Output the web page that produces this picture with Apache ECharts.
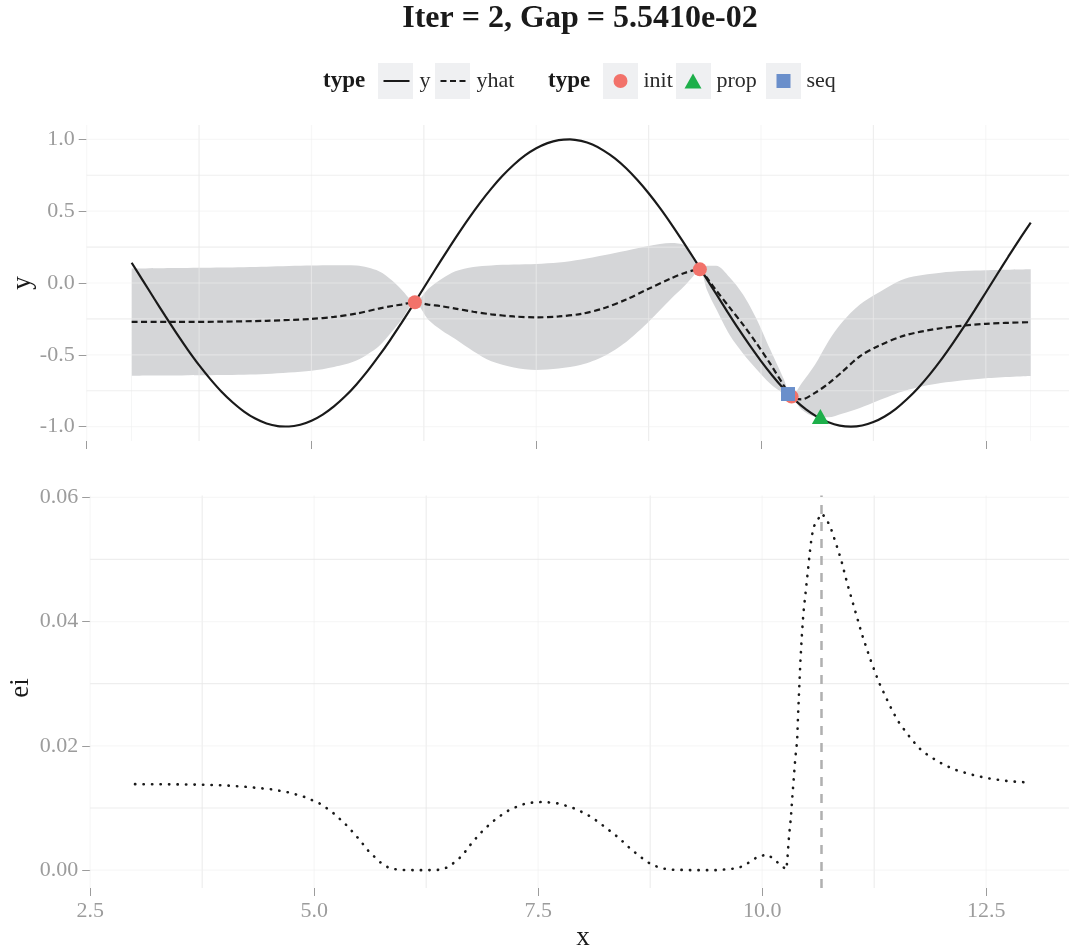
<!DOCTYPE html>
<html>
<head>
<meta charset="utf-8">
<script src="https://cdn.jsdelivr.net/npm/echarts@6/dist/echarts.min.js"></script>
<style>
  html, body { margin: 0; padding: 0; background: #ffffff; }
  #chart { width: 1069px; height: 949px; }
</style>
</head>
<body>
<div id="chart"></div>
<script>
// ---- chart text ----
const titleText = 'Iter = 2, Gap = 5.5410e-02';
const legendTitle = 'type';
const axisNames = { x: 'x', y: 'y', ei: 'ei' };

// ---- axis ticks ----
const xTicks = [2.5, 5, 7.5, 10, 12.5];
const xMinorTicks = [3.75, 6.25, 8.75, 11.25];
const yTicks = [-1, -0.5, 0, 0.5, 1];
const yMinorTicks = [-0.75, -0.25, 0.25, 0.75];
const eiTicks = [0, 0.02, 0.04, 0.06];
const eiMinorTicks = [0.01, 0.03, 0.05];

// ---- true objective y ----
const truthX = [3.000, 3.125, 3.250, 3.375, 3.500, 3.625, 3.750, 3.875, 4.000, 4.125,
  4.250, 4.375, 4.500, 4.625, 4.750, 4.875, 5.000, 5.125, 5.250, 5.375, 5.500, 5.625,
  5.750, 5.875, 6.000, 6.125, 6.250, 6.375, 6.500, 6.625, 6.750, 6.875, 7.000, 7.125,
  7.250, 7.375, 7.500, 7.625, 7.750, 7.875, 8.000, 8.125, 8.250, 8.375, 8.500, 8.625,
  8.750, 8.875, 9.000, 9.125, 9.250, 9.375, 9.500, 9.625, 9.750, 9.875, 10.000, 10.125,
  10.250, 10.375, 10.500, 10.625, 10.750, 10.875, 11.000, 11.125, 11.250, 11.375, 11.500,
  11.625, 11.750, 11.875, 12.000, 12.125, 12.250, 12.375, 12.500, 12.625, 12.750, 12.875,
  13.000];
const truthY = [0.141, 0.017, -0.108, -0.231, -0.351, -0.465, -0.572, -0.669, -0.757,
  -0.832, -0.895, -0.944, -0.978, -0.996, -0.999, -0.987, -0.959, -0.916, -0.859, -0.789,
  -0.706, -0.612, -0.508, -0.397, -0.279, -0.158, -0.033, 0.092, 0.215, 0.335, 0.450,
  0.558, 0.657, 0.746, 0.823, 0.888, 0.938, 0.974, 0.995, 1.000, 0.989, 0.964, 0.922,
  0.868, 0.799, 0.717, 0.625, 0.523, 0.412, 0.295, 0.174, 0.050, -0.075, -0.199, -0.320,
  -0.435, -0.544, -0.644, -0.735, -0.814, -0.880, -0.932, -0.970, -0.993, -1.000, -0.992,
  -0.968, -0.929, -0.876, -0.808, -0.729, -0.638, -0.537, -0.427, -0.311, -0.190, -0.066,
  0.059, 0.183, 0.304, 0.420];

// ---- surrogate mean (yhat) and its band ----
const gpX = [3.00, 3.50, 4.00, 4.50, 5.00, 5.25, 5.50, 5.75, 5.90, 6.00, 6.15, 6.30,
  6.45, 6.60, 6.80, 7.00, 7.25, 7.50, 7.75, 8.00, 8.25, 8.50, 8.75, 9.00, 9.15, 9.25,
  9.32, 9.40, 9.50, 9.65, 9.80, 9.95, 10.10, 10.25, 10.34, 10.45, 10.60, 10.75, 10.90,
  11.10, 11.30, 11.60, 12.00, 12.50, 13.00];
const gpMean = [-0.271, -0.271, -0.269, -0.263, -0.250, -0.236, -0.213, -0.178, -0.160,
  -0.150, -0.134, -0.150, -0.162, -0.178, -0.200, -0.218, -0.233, -0.239, -0.233,
  -0.215, -0.176, -0.115, -0.040, 0.033, 0.070, 0.088, 0.095, 0.035, -0.050, -0.170,
  -0.290, -0.420, -0.560, -0.710, -0.791, -0.810, -0.765, -0.700, -0.620, -0.510,
  -0.440, -0.365, -0.315, -0.284, -0.273];
const gpLower = [-0.645, -0.644, -0.641, -0.633, -0.611, -0.585, -0.540, -0.440, -0.335,
  -0.258, -0.134, -0.255, -0.330, -0.390, -0.475, -0.545, -0.588, -0.605, -0.595,
  -0.570, -0.510, -0.410, -0.270, -0.110, -0.020, 0.050, 0.095, -0.050, -0.180,
  -0.360, -0.490, -0.600, -0.700, -0.770, -0.791, -0.880, -0.930, -0.935, -0.910,
  -0.870, -0.820, -0.750, -0.697, -0.663, -0.647];
const gpUpper = [0.100, 0.104, 0.108, 0.114, 0.121, 0.123, 0.121, 0.082, 0.015, -0.045,
  -0.134, -0.040, 0.030, 0.082, 0.112, 0.122, 0.128, 0.132, 0.142, 0.163, 0.193, 0.225,
  0.258, 0.278, 0.262, 0.185, 0.095, 0.120, 0.120, 0.040, -0.080, -0.250, -0.460,
  -0.665, -0.791, -0.700, -0.570, -0.405, -0.275, -0.150, -0.070, 0.030, 0.072, 0.088,
  0.095];

// ---- evaluated points ----
const initPoints = [[6.15, -0.134], [9.32, 0.095], [10.34, -0.791]];
const propPoints = [[10.66, -0.930]];
const seqPoints = [[10.30, -0.773]];

// ---- expected improvement ----
const eiX = [3.00, 3.50, 3.77, 4.00, 4.25, 4.53, 4.72, 4.90, 5.08, 5.23, 5.37, 5.50,
  5.61, 5.75, 5.84, 5.95, 6.10, 6.25, 6.40, 6.50, 6.58, 6.65, 6.76, 6.89, 7.04, 7.19,
  7.37, 7.56, 7.74, 7.93, 8.10, 8.25, 8.40, 8.54, 8.69, 8.77, 8.86, 8.95, 9.20, 9.50,
  9.72, 9.80, 9.88, 9.96, 10.06, 10.13, 10.20, 10.27, 10.28, 10.30, 10.32, 10.34,
  10.37, 10.39, 10.40, 10.425, 10.44, 10.46, 10.50, 10.54, 10.57, 10.61, 10.667,
  10.715, 10.76, 10.82, 10.88, 10.95, 11.03, 11.11, 11.20, 11.30, 11.42, 11.51, 11.62,
  11.74, 11.81, 11.97, 12.14, 12.33, 12.51, 12.70, 12.85, 13.00];
const eiY = [0.01384, 0.01380, 0.01375, 0.01365, 0.01340, 0.01300, 0.01250, 0.01175,
  0.01060, 0.00900, 0.00710, 0.00500, 0.00300, 0.00110, 0.00030, 0.00005, 0.00000,
  0.00000, 0.00005, 0.00050, 0.00145, 0.00230, 0.00440, 0.00650, 0.00840, 0.00980,
  0.01080, 0.01100, 0.01070, 0.00980, 0.00850, 0.00690, 0.00520, 0.00330, 0.00160,
  0.00085, 0.00040, 0.00010, 0.00000, 0.00000, 0.00030, 0.00075, 0.00150, 0.00225,
  0.00250, 0.00180, 0.00085, 0.00010, 0.00160, 0.00560, 0.00840, 0.01250, 0.01810,
  0.02080, 0.02490, 0.03320, 0.03720, 0.04140, 0.04680, 0.05230, 0.05510, 0.05620,
  0.05740, 0.05650, 0.05530, 0.05270, 0.05000, 0.04610, 0.04210, 0.03810, 0.03420,
  0.03030, 0.02660, 0.02410, 0.02190, 0.01980, 0.01890, 0.01740, 0.01620, 0.01540,
  0.01480, 0.01440, 0.01420, 0.01410];

// ---- styling ----
const SERIF = '"Liberation Serif", "DejaVu Serif", serif';
const INK = '#1a1a1a';
const TICK_GREY = '#9c9c9c';
const RIBBON = '#d5d6d8';
const KEY_BG = '#eff0f2';
const C_INIT = '#f2726a', C_PROP = '#1daf4a', C_SEQ = '#6a8fcb';
const MINOR_GRID = 'rgba(231,231,231,0.71)';
const MAJOR_GRID = 'rgba(240,240,240,0.54)';

const zip = (xs, ys) => xs.map((x, i) => [x, ys[i]]);

// grid lines drawn through the axes' own scales
function gridLines(axisIdx, values, dir, color) {
  return {
    type: 'custom', xAxisIndex: axisIdx, yAxisIndex: axisIdx, silent: true, z: 3,
    clip: false,
    data: values.map(v => dir === 'x' ? [v, axisIdx === 0 ? 0 : 0.01] : [xTicks[0] + 1, v]),
    encode: { x: 0, y: 1 },
    renderItem(params, api) {
      const cs = params.coordSys;
      const p = api.coord([api.value(0), api.value(1)]);
      const shape = dir === 'x'
        ? { x1: p[0], y1: cs.y, x2: p[0], y2: cs.y + cs.height }
        : { x1: cs.x, y1: p[1], x2: cs.x + cs.width, y2: p[1] };
      return { type: 'line', shape, style: { stroke: color, lineWidth: 1.2 } };
    }
  };
}

const tickLabel = { color: TICK_GREY, fontFamily: SERIF, fontSize: 22, margin: 12 };
const tickLine = { length: 8, lineStyle: { color: TICK_GREY, width: 1 } };
const hiddenLine = { show: false, onZero: false };
const axisTitle = { color: INK, fontFamily: SERIF, fontSize: 27 };

// rotated title beside a vertical axis
function sideTitle(text, x, y) {
  return { type: 'text', x, y, rotation: Math.PI / 2,
    style: { text, fontFamily: SERIF, fontSize: 27, fill: INK, align: 'center', verticalAlign: 'middle' } };
}

const legendText = { fontFamily: SERIF, fontSize: 22, color: '#2a2a2a', lineHeight: 26 };
function legendItem(name, left, w, h, padLeft, hideSymbol) {
  const item = {
    data: [name], left, top: 68, padding: 0, itemWidth: w, itemHeight: h,
    selectedMode: false, textStyle: Object.assign({}, legendText, { padding: [0, 0, 0, padLeft] })
  };
  if (hideSymbol) item.itemStyle = { opacity: 0 };
  return item;
}
const keyBoxes = [378, 435, 603, 676, 766];

const chart = echarts.init(document.getElementById('chart'), null, { renderer: 'canvas' });
chart.setOption({
  animation: false,
  backgroundColor: '#ffffff',
  graphic: [
    { type: 'text', x: 580, y: 19, z: 10,
      style: { text: titleText, fontFamily: SERIF, fontWeight: 'bold', fontSize: 32,
               fill: INK, align: 'center', verticalAlign: 'middle' } },
    { type: 'text', x: 323, y: 81, style: { text: legendTitle, fontFamily: SERIF, fontWeight: 'bold',
               fontSize: 23, fill: INK, align: 'left', verticalAlign: 'middle' } },
    { type: 'text', x: 548, y: 81, style: { text: legendTitle, fontFamily: SERIF, fontWeight: 'bold',
               fontSize: 23, fill: INK, align: 'left', verticalAlign: 'middle' } },
    sideTitle(axisNames.y, 23, 283),
    sideTitle(axisNames.ei, 21, 688)
  ].concat(keyBoxes.map(x => ({
    type: 'rect', z: -1, shape: { x, y: 63, width: 35, height: 36 }, style: { fill: KEY_BG }
  }))),
  legend: [
    legendItem('y', 382.5, 26, 14, 5, true),
    legendItem('yhat', 439.5, 26, 14, 5, true),
    legendItem('init', 613.5, 14, 14, 11),
    legendItem('prop', 684.5, 17, 15, 10),
    legendItem('seq', 776.5, 14, 14, 11)
  ],
  grid: [
    { left: 86.7, top: 125, width: 989, height: 316, outerBoundsMode: 'none', containLabel: false },
    { left: 90.2, top: 495.6, width: 985.6, height: 392.4, outerBoundsMode: 'none', containLabel: false }
  ],
  xAxis: [
    { gridIndex: 0, type: 'value', min: 2.5, max: 13.5,
      axisLine: hiddenLine, splitLine: { show: false },
      axisTick: Object.assign({ customValues: xTicks }, tickLine),
      axisLabel: { show: false } },
    { gridIndex: 1, type: 'value', min: 2.5, max: 13.5,
      name: axisNames.x, nameLocation: 'middle', nameGap: 36, nameTextStyle: axisTitle,
      axisLine: hiddenLine, splitLine: { show: false },
      axisTick: Object.assign({ customValues: xTicks }, tickLine),
      axisLabel: Object.assign({ customValues: xTicks, formatter: v => v.toFixed(1) }, tickLabel) }
  ],
  yAxis: [
    { gridIndex: 0, type: 'value', min: -1.1, max: 1.1,
      axisLine: hiddenLine, splitLine: { show: false },
      axisTick: Object.assign({ customValues: yTicks }, tickLine),
      axisLabel: Object.assign({ customValues: yTicks, formatter: v => v.toFixed(1) }, tickLabel) },
    { gridIndex: 1, type: 'value', min: -0.00287, max: 0.06027,
      axisLine: hiddenLine, splitLine: { show: false },
      axisTick: Object.assign({ customValues: eiTicks }, tickLine),
      axisLabel: Object.assign({ customValues: eiTicks, formatter: v => v.toFixed(2) }, tickLabel) }
  ],
  series: [
    // band around yhat: grey down from the upper edge, then cleared below the lower edge
    { name: 'band-upper', type: 'line', xAxisIndex: 0, yAxisIndex: 0, z: 2,
      data: zip(gpX, gpUpper), smooth: 0.3, symbol: 'none', silent: true,
      lineStyle: { opacity: 0 }, areaStyle: { color: RIBBON, opacity: 1, origin: 'start' } },
    { name: 'band-lower', type: 'line', xAxisIndex: 0, yAxisIndex: 0, z: 2,
      data: zip(gpX, gpLower), smooth: 0.3, symbol: 'none', silent: true,
      lineStyle: { opacity: 0 }, areaStyle: { color: '#ffffff', opacity: 1, origin: 'start' } },

    gridLines(0, xMinorTicks, 'x', MINOR_GRID),
    gridLines(0, xTicks, 'x', MAJOR_GRID),
    gridLines(0, yMinorTicks, 'y', MINOR_GRID),
    gridLines(0, yTicks, 'y', MAJOR_GRID),
    gridLines(1, xMinorTicks, 'x', MINOR_GRID),
    gridLines(1, xTicks, 'x', MAJOR_GRID),
    gridLines(1, eiMinorTicks, 'y', MINOR_GRID),
    gridLines(1, eiTicks, 'y', MAJOR_GRID),

    { name: 'y', type: 'line', xAxisIndex: 0, yAxisIndex: 0, z: 4,
      data: zip(truthX, truthY), smooth: 0.3, symbol: 'none',
      lineStyle: { color: INK, width: 2.2 }, itemStyle: { color: INK } },
    { name: 'yhat', type: 'line', xAxisIndex: 0, yAxisIndex: 0, z: 4,
      data: zip(gpX, gpMean), smooth: 0.3, symbol: 'none',
      lineStyle: { color: INK, width: 2.2, type: [6, 3.5] }, itemStyle: { color: INK } },

    { name: 'init', type: 'scatter', xAxisIndex: 0, yAxisIndex: 0, z: 5,
      data: initPoints, symbol: 'circle', symbolSize: 14, itemStyle: { color: C_INIT, opacity: 1 } },
    { name: 'prop', type: 'scatter', xAxisIndex: 0, yAxisIndex: 0, z: 5,
      data: propPoints, symbol: 'triangle', symbolSize: [17, 15], itemStyle: { color: C_PROP, opacity: 1 } },
    { name: 'seq', type: 'scatter', xAxisIndex: 0, yAxisIndex: 0, z: 5,
      data: seqPoints, symbol: 'rect', symbolSize: 14, itemStyle: { color: C_SEQ, opacity: 1 } },

    { name: 'ei', type: 'line', xAxisIndex: 1, yAxisIndex: 1, z: 4,
      data: zip(eiX, eiY), smooth: false, symbol: 'none',
      lineStyle: { color: INK, width: 2.6, type: [0.3, 8.2], cap: 'round' },
      markLine: {
        silent: true, symbol: ['none', 'none'], label: { show: false },
        lineStyle: { color: '#b0b0b0', width: 2.5, type: [9, 8] },
        data: [{ xAxis: propPoints[0][0] }]
      } }
  ]
});
</script>
</body>
</html>
